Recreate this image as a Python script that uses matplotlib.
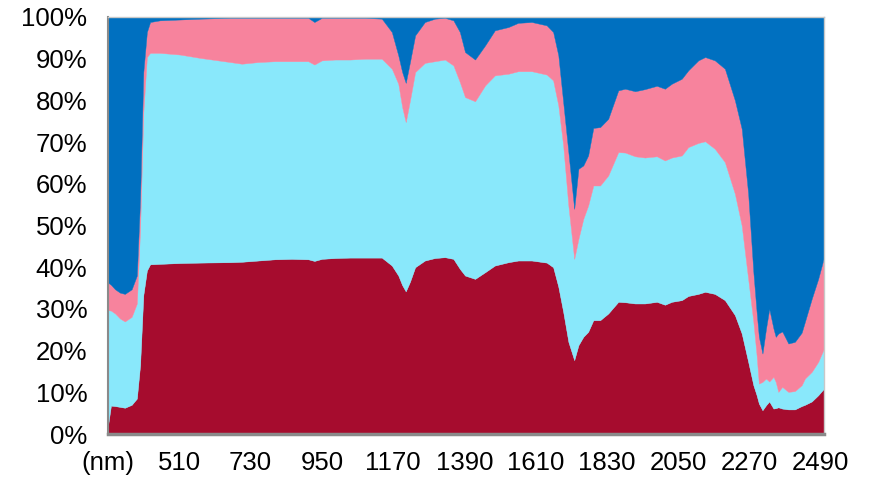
import matplotlib
matplotlib.use("Agg")
import matplotlib.pyplot as plt
import numpy as np

# Wavelength samples (nm)
wavelength = [
    290, 299, 312, 327, 342, 363, 379, 389, 399, 410, 420, 450, 512, 574, 667,
    703, 754, 806, 857, 908, 927, 950, 991, 1037, 1083, 1135, 1166, 1186, 1198,
    1209, 1222, 1238, 1268, 1299, 1330, 1356, 1376, 1392, 1423, 1454, 1484, 1526,
    1556, 1598, 1644, 1664, 1680, 1695, 1711, 1729, 1742, 1757, 1772, 1788, 1809,
    1834, 1865, 1886, 1917, 1947, 1984, 2009, 2030, 2061, 2081, 2112, 2133, 2163,
    2194, 2225, 2246, 2266, 2282, 2292, 2299, 2310, 2321, 2331, 2344, 2351, 2359,
    2371, 2390, 2410, 2431, 2441, 2462, 2482, 2500,
]

# Percentage share of each component at every wavelength
share_red = [
    2.0, 6.8, 6.7, 6.5, 6.3, 7.0, 8.5, 16.5, 33.3, 39.2, 40.7, 40.8, 41.0, 41.1, 41.2,
    41.3, 41.6, 41.9, 42.0, 41.9, 41.5, 42.0, 42.2, 42.3, 42.3, 42.3, 40.4, 38.0, 35.7,
    34.2, 36.5, 40.0, 41.6, 42.2, 42.4, 42.0, 39.6, 38.0, 37.2, 38.8, 40.4, 41.2,
    41.6, 41.6, 41.1, 40.0, 35.3, 29.3, 22.1, 17.7, 21.3, 23.3, 24.5, 27.3, 27.3,
    28.9, 31.7, 31.6, 31.3, 31.3, 31.7, 31.0, 31.7, 32.1, 33.1, 33.6, 34.1, 33.6,
    32.1, 28.5, 24.1, 17.3, 11.7, 9.3, 7.3, 5.7, 6.9, 7.8, 6.1, 6.2, 6.4,
    6.1, 5.9, 5.9, 6.7, 7.0, 7.8, 9.3, 10.9,
]
share_cyan = [
    27.7, 22.8, 22.2, 21.2, 20.7, 21.1, 22.8, 32.7, 43.9, 51.2, 50.7, 50.6, 50.0, 49.1, 48.0,
    47.5, 47.6, 47.5, 47.4, 47.5, 47.1, 47.6, 47.6, 47.5, 47.7, 47.7, 47.2, 46.0, 42.7,
    40.6, 43.5, 46.8, 47.4, 47.2, 47.4, 46.4, 44.8, 42.8, 42.6, 44.8, 45.6, 45.2,
    45.4, 45.4, 45.1, 44.8, 43.5, 39.9, 32.7, 24.3, 25.5, 28.3, 30.3, 32.3, 32.3,
    33.1, 35.9, 35.9, 35.3, 35.0, 34.9, 34.6, 34.6, 34.7, 35.7, 36.2, 36.1, 34.8,
    33.1, 29.1, 25.9, 19.9, 15.2, 9.6, 4.8, 6.8, 6.4, 4.8, 7.6, 6.3, 3.7,
    5.2, 4.2, 4.4, 5.0, 6.3, 7.1, 8.0, 9.6,
]
share_pink = [
    6.6, 6.2, 5.8, 6.2, 6.6, 6.6, 6.7, 7.2, 9.6, 6.0, 7.4, 7.8, 8.4, 9.4, 10.6,
    11.0, 10.6, 10.4, 10.4, 10.4, 10.2, 10.2, 10.0, 10.0, 9.8, 9.6, 8.8, 6.8, 8.4,
    9.4, 9.2, 8.8, 9.8, 10.2, 10.0, 10.8, 12.0, 10.8, 10.0, 9.6, 10.8, 11.2,
    11.6, 11.8, 11.8, 11.6, 12.0, 10.4, 12.8, 12.0, 16.8, 12.8, 12.0, 13.8, 14.0,
    13.6, 14.8, 15.3, 15.6, 16.4, 16.9, 17.2, 17.7, 18.4, 18.4, 19.8, 20.2, 21.2,
    22.4, 22.4, 23.2, 20.4, 11.9, 10.4, 11.2, 6.8, 12.0, 17.4, 11.6, 10.8, 14.0,
    13.3, 11.6, 11.8, 12.6, 13.6, 17.5, 19.9, 21.9,
]
share_blue = [
    63.7, 64.2, 65.3, 66.1, 66.4, 65.3, 62.0, 43.6, 13.2, 3.6, 1.2, 0.8, 0.6, 0.4, 0.2,
    0.2, 0.2, 0.2, 0.2, 0.2, 1.2, 0.2, 0.2, 0.2, 0.2, 0.4, 3.6, 9.2, 13.2,
    15.8, 10.8, 4.4, 1.2, 0.4, 0.2, 0.8, 3.6, 8.4, 10.2, 6.8, 3.2, 2.4,
    1.4, 1.2, 2.0, 3.6, 9.2, 20.4, 32.4, 46.0, 36.4, 35.6, 33.2, 26.6, 26.4,
    24.4, 17.6, 17.2, 17.8, 17.3, 16.5, 17.2, 16.0, 14.8, 12.8, 10.4, 9.6, 10.4,
    12.4, 20.0, 26.8, 42.4, 61.2, 70.7, 76.7, 80.7, 74.7, 70.0, 74.7, 76.7, 75.9,
    75.4, 78.3, 77.9, 75.7, 73.1, 67.6, 62.8, 57.6,
]

x_ticks = [290, 510, 730, 950, 1170, 1390, 1610, 1830, 2050, 2270, 2490]
x_tick_labels = ["(nm)", "510", "730", "950", "1170", "1390", "1610", "1830",
                 "2050", "2270", "2490"]
y_ticks = [0, 10, 20, 30, 40, 50, 60, 70, 80, 90, 100]
y_tick_labels = [f"{v}%" for v in y_ticks]

colors = ["#A60C2E", "#89E8FB", "#F7839D", "#0070C0"]

plt.rcParams["font.family"] = ["Liberation Sans", "DejaVu Sans"]

fig = plt.figure(figsize=(8.7, 4.82), dpi=100)
ax = fig.add_axes([108 / 870, 1 - 434 / 482, (824 - 108) / 870, (434 - 17) / 482])

polys = ax.stackplot(wavelength, share_red, share_cyan, share_pink, share_blue,
                     colors=colors, linewidth=0.3)
for p, c in zip(polys, colors):
    p.set_edgecolor(c)

ax.set_xlim(290, 2500)
ax.set_ylim(0, 100)
ax.set_xticks(x_ticks)
ax.set_xticklabels(x_tick_labels)
ax.set_yticks(y_ticks)
ax.set_yticklabels(y_tick_labels)
ax.tick_params(axis="both", length=0, labelsize=18.5, colors="black")
ax.tick_params(axis="y", pad=15)
ax.tick_params(axis="x", pad=12)

for side in ("top", "right"):
    ax.spines[side].set_color("#C8C8C8")
    ax.spines[side].set_linewidth(1.0)
ax.spines["left"].set_color("#8A8A8A")
ax.spines["left"].set_linewidth(1.5)
ax.spines["bottom"].set_color("#8A8A8A")
ax.spines["bottom"].set_linewidth(2.5)

fig.savefig("out.png", dpi=100)
